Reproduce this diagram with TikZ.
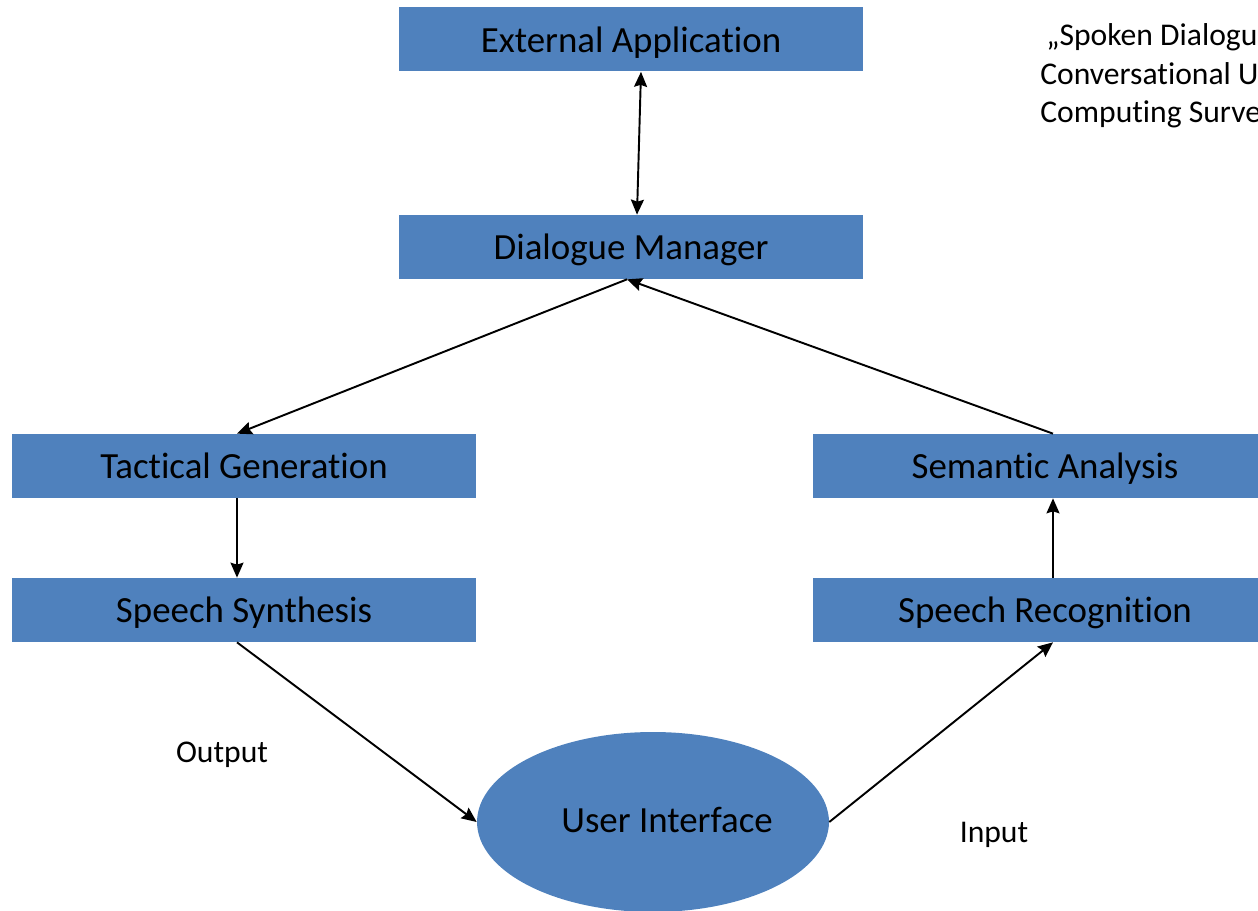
\documentclass[tikz,border=0pt]{standalone}
\usepackage{fontspec}
\setmainfont{Carlito}[RawFeature={-liga;-clig;-dlig;-calt}]
\usetikzlibrary{arrows.meta, shapes.geometric}
\definecolor{boxblue}{HTML}{4F81BD}
\tikzset{
	blk/.style={fill=boxblue, inner sep=0pt, minimum width=9.28cm, minimum height=1.28cm, text height=0.56cm, text depth=0.04cm, font=\fontsize{21}{25}\selectfont},
	uiell/.style={ellipse, fill=boxblue, inner sep=0pt, minimum width=7.04cm, minimum height=3.6cm},
	lbl/.style={inner sep=0pt, font=\fontsize{18}{22}\selectfont}
}

\begin{document}
\begin{tikzpicture}[x=0.02cm, y=-0.02cm, >={Stealth[length=3mm,width=2.6mm,inset=0.4mm]}]
\useasboundingbox (0,0) rectangle (1258,911);
\clip (0,0) rectangle (1258,911);
\node[blk] (ext) at (631,39.5) {External Application};
\node[blk] (dm) at (631,247) {Dialogue Manager};
\node[blk] (tg) at (244,466) {Tactical Generation};
\node[blk] (sa) at (1045,466) {Semantic Analysis};
\node[blk] (ss) at (244,610) {Speech Synthesis};
\node[blk] (sr) at (1045,610) {Speech Recognition};
\node[uiell] (ui) at (653,822) {};
\node[lbl, text height=0.56cm, text depth=0.04cm, font=\fontsize{21}{25}\selectfont] (uitext) at (667,820) {User Interface};
\draw[<->,line width=1.1pt] ([xshift=0.2cm]ext.south) -- ([xshift=0.12cm]dm.north);
\draw[->,line width=1.1pt] ([xshift=-0.08cm]dm.south) -- ([xshift=-0.14cm]tg.north);
\draw[->,line width=1.1pt] ([xshift=0.16cm]sa.north) -- ([xshift=-0.08cm]dm.south);
\draw[->,line width=1.1pt] ([xshift=-0.14cm]tg.south) -- ([xshift=-0.14cm]ss.north);
\draw[->,line width=1.1pt] ([xshift=0.16cm]sr.north) -- ([xshift=0.16cm]sa.south);
\draw[->,line width=1.1pt] ([xshift=-0.14cm]ss.south) -- (ui.west);
\draw[->,line width=1.1pt] (ui.east) -- ([xshift=0.16cm]sr.south);
\node[lbl] (out) at (222,755) {Output};
\node[lbl] (in) at (994,835) {Input};
\node[lbl, anchor=west, align=left, font=\fontsize{18}{21.9}\selectfont] (src) at (1040,76) {\hspace{0.12cm}„Spoken Dialogu\\Conversational U\\Computing Surve};
\end{tikzpicture}
\end{document}
